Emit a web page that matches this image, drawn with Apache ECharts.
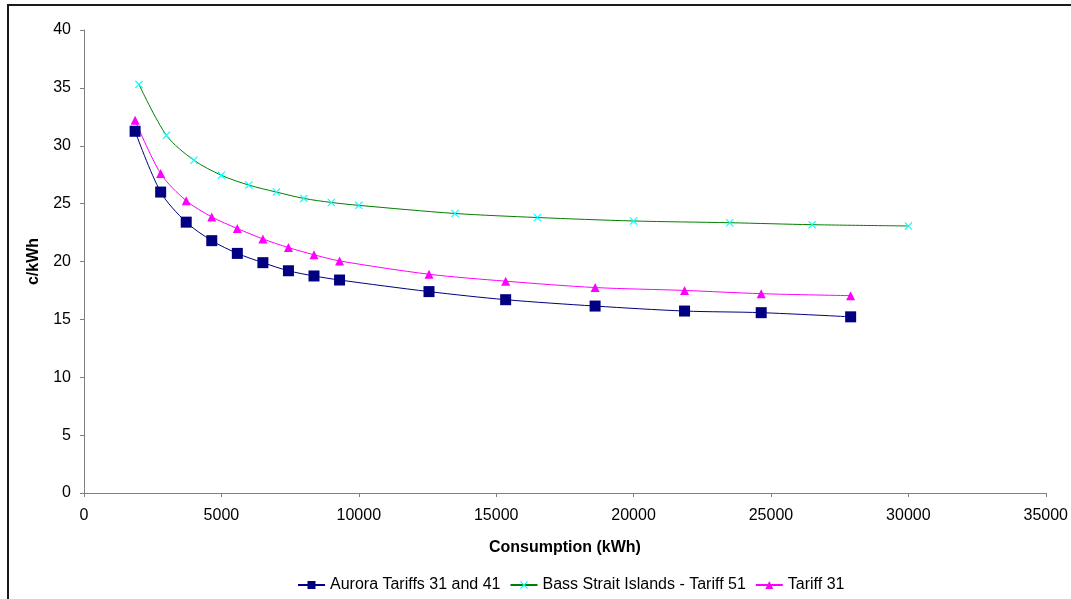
<!DOCTYPE html>
<html>
<head>
<meta charset="utf-8">
<script src="https://cdn.jsdelivr.net/npm/echarts@6/dist/echarts.min.js"></script>
<style>
  html, body { margin: 0; padding: 0; background: #fff; }
  #chart { width: 1071px; height: 599px; }
</style>
</head>
<body>
<div id="chart"></div>
<script>
// Annual consumption (kWh) and the resulting average price (c/kWh)
const auroraKwh = [1860, 2790, 3720, 4650, 5580, 6510, 7440, 8370, 9300, 12555, 15345, 18600, 21855, 24645, 27900];
const auroraCents = [31.25, 26.0, 23.4, 21.8, 20.7, 19.9, 19.2, 18.75, 18.4, 17.4, 16.7, 16.15, 15.72, 15.58, 15.22];

const bassKwh = [2000, 3000, 4000, 5000, 6000, 7000, 8000, 9000, 10000, 13500, 16500, 20000, 23500, 26500, 30000];
const bassCents = [35.3, 30.9, 28.75, 27.45, 26.6, 26.0, 25.45, 25.1, 24.85, 24.15, 23.8, 23.5, 23.35, 23.18, 23.07];

const tariff31Kwh = [1860, 2790, 3720, 4650, 5580, 6510, 7440, 8370, 9300, 12555, 15345, 18600, 21855, 24645, 27900];
const tariff31Cents = [32.2, 27.6, 25.25, 23.85, 22.85, 21.95, 21.2, 20.58, 20.05, 18.9, 18.3, 17.75, 17.5, 17.22, 17.05];

const xTicks = { min: 0, max: 35000, interval: 5000 };
const yTicks = { min: 0, max: 40, interval: 5 };

const seriesNames = ['Aurora Tariffs 31 and 41', 'Bass Strait Islands - Tariff 51', 'Tariff 31'];

function pairs(xs, ys) {
  return xs.map((x, i) => [x, ys[i]]);
}

const crossSymbol = 'path://M0,1L1,0L5,4L9,0L10,1L6,5L10,9L9,10L5,6L1,10L0,9L4,5Z';
const font = 'Liberation Sans, Arial, sans-serif';
const axisGrey = '#7f7f7f';

const chart = echarts.init(document.getElementById('chart'), null, { renderer: 'canvas' });

chart.setOption({
  backgroundColor: '#ffffff',
  animation: false,
  textStyle: { fontFamily: font, color: '#000' },
  graphic: [{
    type: 'rect',
    shape: { x: 8, y: 5, width: 1200, height: 800 },
    style: { fill: 'none', stroke: '#1a1a1a', lineWidth: 2 },
    silent: true
  }],
  grid: { left: 84, right: 25, top: 30, bottom: 106, containLabel: false },
  xAxis: {
    type: 'value',
    min: xTicks.min, max: xTicks.max, interval: xTicks.interval,
    name: 'Consumption (kWh)',
    nameLocation: 'middle',
    nameGap: 47,
    nameTextStyle: { fontFamily: font, fontWeight: 'bold', fontSize: 16, color: '#000' },
    axisLine: { lineStyle: { color: axisGrey, width: 1 } },
    axisTick: { show: true, inside: false, length: 4, lineStyle: { color: axisGrey } },
    axisLabel: {
      fontFamily: font, fontSize: 16, color: '#000', margin: 15,
      formatter: (v) => String(v)
    },
    splitLine: { show: false }
  },
  yAxis: {
    type: 'value',
    min: yTicks.min, max: yTicks.max, interval: yTicks.interval,
    name: 'c/kWh',
    nameLocation: 'middle',
    nameGap: 42,
    nameRotate: 90,
    nameTextStyle: { fontFamily: font, fontWeight: 'bold', fontSize: 16, color: '#000' },
    axisLine: { show: true, lineStyle: { color: axisGrey, width: 1 } },
    axisTick: { show: true, inside: false, length: 4, lineStyle: { color: axisGrey } },
    axisLabel: { fontFamily: font, fontSize: 16, color: '#000', margin: 13 },
    splitLine: { show: false }
  },
  legend: {
    bottom: 1,
    left: 292,
    itemWidth: 27,
    itemHeight: 10,
    itemGap: 9,
    textStyle: { fontFamily: font, fontSize: 16, color: '#000' },
    data: seriesNames
  },
  series: [
    {
      name: seriesNames[0],
      type: 'line',
      data: pairs(auroraKwh, auroraCents),
      smooth: 0.3,
      symbol: 'rect',
      symbolSize: 11,
      lineStyle: { color: '#000080', width: 1 },
      itemStyle: { color: '#000080' }
    },
    {
      name: seriesNames[1],
      type: 'line',
      data: pairs(bassKwh, bassCents),
      smooth: 0.3,
      symbol: crossSymbol,
      symbolSize: 8,
      lineStyle: { color: '#008000', width: 1 },
      itemStyle: { color: '#00ffff' }
    },
    {
      name: seriesNames[2],
      type: 'line',
      data: pairs(tariff31Kwh, tariff31Cents),
      smooth: 0.3,
      symbol: 'triangle',
      symbolSize: 9,
      lineStyle: { color: '#ff00ff', width: 1 },
      itemStyle: { color: '#ff00ff' }
    }
  ]
});
</script>
</body>
</html>
